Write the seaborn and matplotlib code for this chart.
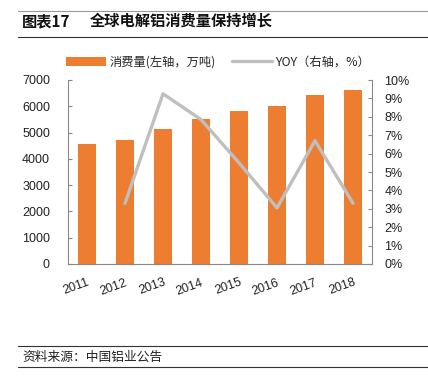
import numpy as np
import pandas as pd
import matplotlib
matplotlib.use("Agg")
import matplotlib.pyplot as plt
from matplotlib.lines import Line2D
from matplotlib.patches import Patch
import seaborn as sns

years = ["2011", "2012", "2013", "2014", "2015", "2016", "2017", "2018"]
consumption = [4560, 4700, 5130, 5525, 5830, 6020, 6415, 6620]
yoy = [np.nan, 3.3, 9.25, 7.85, 5.5, 3.05, 6.7, 3.3]
left_ticks = [0, 1000, 2000, 3000, 4000, 5000, 6000, 7000]
right_ticks = [0, 1, 2, 3, 4, 5, 6, 7, 8, 9, 10]

title_num = "图表17"
title = "全球电解铝消费量保持增长"
source = "资料来源：中国铝业公告"
bar_label = "消费量(左轴，万吨)"
line_label = "YOY（右轴，%）"

sns.set_theme(style="white")
plt.rcParams["font.family"] = ["Noto Sans CJK SC", "DejaVu Sans"]

ORANGE = "#ED7D31"
GRAY = "#BFBFBF"
SPINE = "#898989"
NUMFONT = ["Liberation Sans", "DejaVu Sans"]

W, H = 428, 376
fig = plt.figure(figsize=(W / 100, H / 100), dpi=100)
ax = fig.add_axes([68 / W, 1 - 264 / H, (372 - 68) / W, (264 - 80) / H])

df = pd.DataFrame({"year": years, "consumption": consumption, "yoy": yoy})
sns.barplot(data=df, x="year", y="consumption", color=ORANGE, width=0.48,
            saturation=1, ax=ax, edgecolor="none")
ax.set_ylim(0, 7000)
ax.set_yticks(left_ticks)
ax.set_xlim(-0.5, len(years) - 0.5)
ax.set_xlabel("")
ax.set_ylabel("")

ax2 = ax.twinx()
dl = df.assign(pos=np.arange(len(years), dtype=float)).dropna()
sns.lineplot(data=dl, x="pos", y="yoy", color=GRAY, linewidth=2.4, ax=ax2)
ax2.set_ylim(0, 10)
ax2.set_yticks(right_ticks)
ax2.set_yticklabels([f"{t}%" for t in right_ticks])
ax2.set_xlim(-0.5, len(years) - 0.5)
ax2.set_xlabel("")
ax2.set_ylabel("")

# x ticks: labels at categories, tick marks at boundaries
ax.set_xticks(np.arange(len(years)))
ax.set_xticklabels(years, rotation=20, fontsize=9, color="#222222",
                   fontfamily=NUMFONT, ha="right", rotation_mode="anchor")
ax.tick_params(axis="x", which="major", length=0, pad=9)
ax.set_xticks(np.arange(-0.5, len(years), 1.0), minor=True)
ax.tick_params(axis="x", which="minor", length=3, direction="in", color=SPINE, width=0.8)

ax.tick_params(axis="y", length=3, direction="in", color=SPINE, width=0.8,
               labelsize=9, labelcolor="#222222", pad=13)
ax2.tick_params(axis="y", length=3, direction="in", color=SPINE, width=0.8,
                labelsize=9, labelcolor="#222222", pad=9)
for lab in ax.get_yticklabels() + ax2.get_yticklabels():
    lab.set_fontfamily(NUMFONT)

for a in (ax, ax2):
    a.spines["top"].set_visible(False)
    for s in ("left", "right", "bottom"):
        a.spines[s].set_color(SPINE)
        a.spines[s].set_linewidth(0.8)
ax.spines["right"].set_visible(False)
ax2.spines["left"].set_visible(False)
ax2.spines["bottom"].set_visible(False)

handles = [Patch(facecolor=ORANGE, edgecolor="none", label=bar_label),
           Line2D([0], [0], color=GRAY, linewidth=2.4, label=line_label)]
fig.legend(handles=handles, loc="center left", bbox_to_anchor=(66 / W, 1 - 62 / H),
           ncol=2, frameon=False, fontsize=8.8, handlelength=3.3, handleheight=0.7,
           columnspacing=1.3, handletextpad=0.25, borderpad=0, borderaxespad=0)

# title and source
fig.text(22 / W, 1 - 21 / H, title_num, fontsize=11, fontweight="bold",
         va="center", ha="left", color="#111111")
fig.text(90 / W, 1 - 21 / H, title, fontsize=11, fontweight="bold",
         va="center", ha="left", color="#111111")
fig.add_artist(Line2D([18 / W, 1], [1 - 11 / H, 1 - 11 / H], color="#9a9a9a", linewidth=0.8))
fig.add_artist(Line2D([18 / W, 1], [1 - 37 / H, 1 - 37 / H], color="#333333", linewidth=0.8))
fig.add_artist(Line2D([18 / W, 1], [1 - 346 / H, 1 - 346 / H], color="#333333", linewidth=0.8))
fig.add_artist(Line2D([18 / W, 1], [1 - 367 / H, 1 - 367 / H], color="#333333", linewidth=0.8))
fig.text(22 / W, 1 - 357 / H, source, fontsize=9.2, va="center", ha="left",
         color="#222222", style="italic")

fig.savefig("out.png", dpi=100, facecolor="white")
